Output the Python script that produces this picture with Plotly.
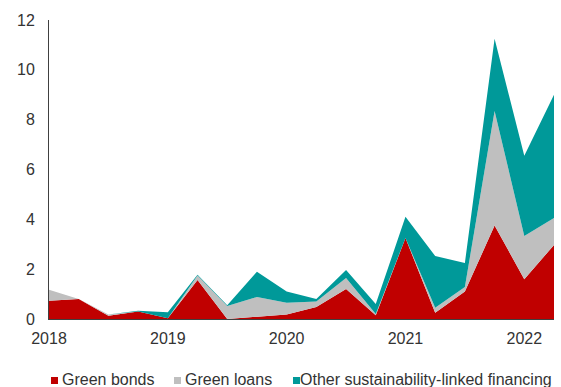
import plotly.graph_objects as go

quarters = ["2018Q1", "2018Q2", "2018Q3", "2018Q4",
            "2019Q1", "2019Q2", "2019Q3", "2019Q4",
            "2020Q1", "2020Q2", "2020Q3", "2020Q4",
            "2021Q1", "2021Q2", "2021Q3", "2021Q4",
            "2022Q1", "2022Q2"]
green_bonds = [0.73, 0.8, 0.13, 0.3, 0.03, 1.57, 0.0, 0.08, 0.18, 0.48, 1.2, 0.15,
               3.25, 0.25, 1.1, 3.75, 1.6, 2.97]
green_loans = [0.44, 0.0, 0.05, 0.0, 0.0, 0.18, 0.52, 0.8, 0.47, 0.22, 0.45, 0.05,
               0.0, 0.2, 0.18, 4.6, 1.73, 1.08]
other_sl = [0.0, 0.0, 0.0, 0.03, 0.24, 0.03, 0.03, 1.02, 0.45, 0.1, 0.32, 0.4,
            0.85, 2.08, 0.97, 2.9, 3.22, 4.95]
series_names = ["Green bonds", "Green loans", "Other sustainability-linked financing"]
colors = ["#C00000", "#BFBFBF", "#009999"]
year_ticks = ["2018", "2019", "2020", "2021", "2022"]
y_ticks = [0, 2, 4, 6, 8, 10, 12]

x_idx = list(range(len(quarters)))
tick_pos = [quarters.index(y + "Q1") for y in year_ticks]

FONT = "Liberation Sans, Arial, sans-serif"
TXT = "#333333"

fig = go.Figure()
for name, vals, col in zip(series_names, [green_bonds, green_loans, other_sl], colors):
    fig.add_trace(go.Scatter(
        x=x_idx, y=vals, name=name, mode="lines", stackgroup="one",
        line=dict(width=0, color=col), fillcolor=col, showlegend=False,
        hovertext=quarters,
    ))

# Plot area geometry in pixels (for the manual legend)
W, H = 561, 387
L, R, T, B = 49, 7, 20, 68
pw, ph = W - L - R, H - T - B

def px_x(p):
    return (p - L) / pw

def px_y(p):
    return (H - B - p) / ph

legend_items = [(51, 62), (174, 185), (293, 300)]
shapes = []
annotations = []
for (sq_x, tx_x), name, col in zip(legend_items, series_names, colors):
    shapes.append(dict(type="rect", xref="paper", yref="paper",
                       x0=px_x(sq_x), x1=px_x(sq_x + 7),
                       y0=px_y(384), y1=px_y(377),
                       fillcolor=col, line=dict(width=0)))
    annotations.append(dict(xref="paper", yref="paper", x=px_x(tx_x - 2), y=px_y(379),
                            xanchor="left", yanchor="middle", showarrow=False,
                            text=name, font=dict(family=FONT, size=16, color=TXT)))

fig.update_layout(
    width=W, height=H,
    margin=dict(l=L, r=R, t=T, b=B, pad=0),
    paper_bgcolor="white", plot_bgcolor="white",
    font=dict(family=FONT, size=16, color=TXT),
    showlegend=False,
    shapes=shapes, annotations=annotations,
    xaxis=dict(range=[0, len(quarters) - 1], tickmode="array",
               tickvals=tick_pos, ticktext=year_ticks,
               showgrid=False, zeroline=False,
               showline=True, linecolor="#404040", linewidth=1,
               ticks="outside", ticklen=5, tickcolor="rgba(0,0,0,0)",
               tickfont=dict(family=FONT, size=16, color=TXT)),
    yaxis=dict(range=[0, 12], tickmode="array", tickvals=y_ticks,
               showgrid=False, zeroline=False,
               showline=True, linecolor="#404040", linewidth=1,
               ticks="outside", ticklen=10, tickcolor="rgba(0,0,0,0)",
               tickfont=dict(family=FONT, size=16, color=TXT)),
)

fig.write_html("out.html")
